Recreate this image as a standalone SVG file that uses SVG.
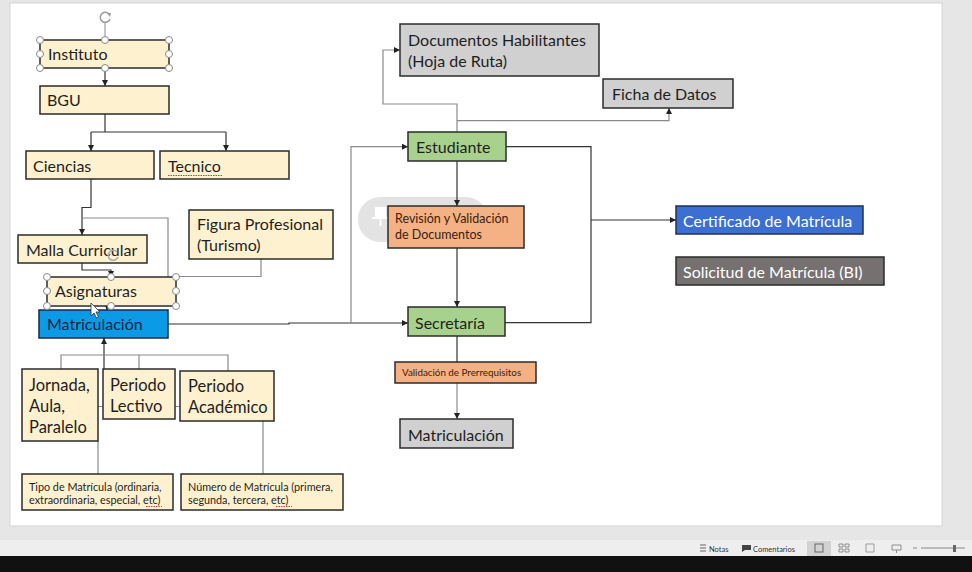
<svg xmlns="http://www.w3.org/2000/svg" width="972" height="572" viewBox="0 0 972 572">
<defs>
<style>
.b{stroke:#2b2b2b;stroke-width:1.5}
.tan{fill:#fef1cf}
.gry{fill:#d0d0d0}
.grn{fill:#a9d18e}
.org{fill:#f4b183}
.t{font-family:Lato,"Liberation Sans",sans-serif;font-size:16px;fill:#1e1e1e}
.s{font-family:Lato,"Liberation Sans",sans-serif;font-size:10.8px;fill:#1e1e1e}
.c{fill:none;stroke:#333;stroke-width:1.2}
.g{fill:none;stroke:#8a8a8a;stroke-width:1.2}
.h{fill:#fff;stroke:#8a8a8a;stroke-width:1}
.sq{fill:none;stroke:#d04040;stroke-width:1;stroke-dasharray:1.5 1}
</style>
<marker id="a" viewBox="0 0 10 10" refX="10" refY="5" markerWidth="6" markerHeight="6" markerUnits="userSpaceOnUse" orient="auto">
<path d="M0,0L10,5L0,10z" fill="#222"/>
</marker>
</defs>
<rect width="972" height="572" fill="#e6e6e6"/>
<rect x="10" y="3" width="932" height="523" fill="#fff" stroke="#d4d4d4"/>
<rect x="0" y="540" width="972" height="16" fill="#eeeeee"/>
<rect x="0" y="556" width="972" height="16" fill="#111"/>
<g id="statusbar">
<path d="M700,545h6M700,548h6M700,551h6" stroke="#666" stroke-width="1"/>
<text x="709" y="551.5" font-family="Lato,'Liberation Sans',sans-serif" font-size="7.5" fill="#333">Notas</text>
<path d="M742,545h9v5h-6l-3,2z" fill="#444"/>
<text x="753" y="551.5" font-family="Lato,'Liberation Sans',sans-serif" font-size="7.5" fill="#333">Comentarios</text>
<rect x="807" y="541" width="24" height="15" fill="#d2d2d2"/>
<rect x="815" y="544" width="8" height="8" fill="none" stroke="#666"/>
<path d="M839,544h4v3h-4zM845,544h4v3h-4zM839,549h4v3h-4zM845,549h4v3h-4z" fill="none" stroke="#777" stroke-width="0.8"/>
<path d="M866,544h8v8h-8z" fill="none" stroke="#888" stroke-width="0.8"/>
<path d="M892,545h9v5h-9zM896.5,550v3" fill="none" stroke="#777" stroke-width="0.8"/>
<path d="M913,548h4M921,548h44" stroke="#888" stroke-width="1"/>
<rect x="953" y="545" width="3" height="7" fill="#666"/>
</g>

<g id="pin">
<rect x="358" y="197" width="130" height="45" rx="22" fill="#e3e3e3"/>
<path d="M376,208h9v10h-9zM372,218h17M380.5,218v8" fill="#fff" stroke="#fff" stroke-width="2"/>
</g>

<g id="connectors">
<path class="c" d="M105,68V86" marker-end="url(#a)"/>
<path class="c" d="M105,114V132"/>
<path class="c" d="M91,132H226"/>
<path class="c" d="M91,132V151" marker-end="url(#a)"/>
<path class="c" d="M226,132V151" marker-end="url(#a)"/>
<path class="c" d="M91,179V207.5H82V235" marker-end="url(#a)"/>
<path class="g" d="M83,218H168V277"/>
<path class="c" d="M82,263V270H111V277" marker-end="url(#a)"/>
<path class="g" d="M261,259V276.5H176"/>
<path class="c" d="M107,306V310" marker-end="url(#a)"/>
<path class="c" d="M168,324H289V323H408" marker-end="url(#a)"/>
<path class="g" d="M351,323V146.7H408" marker-end="url(#a)"/>
<path class="g" d="M457,132V104H383V50H400" marker-end="url(#a)"/>
<path class="g" d="M457,120.7H669V108" marker-end="url(#a)"/>
<path class="c" d="M457,161V206" marker-end="url(#a)"/>
<path class="c" d="M457,248V307" marker-end="url(#a)"/>
<path class="c" d="M506,146.7H591V322.7H505"/>
<path class="c" d="M591,220H676" marker-end="url(#a)"/>
<path class="c" d="M457,336V362"/>
<path class="g" d="M457,383V419" marker-end="url(#a)"/>
<path class="c" d="M104,369V338" marker-end="url(#a)"/>
<path class="g" d="M61,369V355H228V371M139,355V369"/>
<path class="g" d="M98,406.5H103M175,406.5H180"/>
<path class="g" d="M98,441V474M263,421V474"/>
</g>

<g id="instituto"><rect class="b tan" x="40" y="40" width="129" height="28"/><text class="t" x="48" y="60">Instituto</text></g>
<g id="bgu"><rect class="b tan" x="40" y="86" width="129" height="28"/><text class="t" x="47" y="106">BGU</text></g>
<g id="ciencias"><rect class="b tan" x="26" y="151" width="128" height="28"/><text class="t" x="33" y="172">Ciencias</text></g>
<g id="tecnico"><rect class="b tan" x="160" y="151" width="129" height="28"/><text class="t" x="168" y="172">Tecnico</text><path class="sq" d="M168,175.5H222"/></g>
<g id="malla"><rect class="b tan" x="18" y="235" width="129" height="28"/><text class="t" x="26" y="256">Malla Curricular</text></g>
<g id="figura"><rect class="b tan" x="189" y="210" width="144" height="49"/><text class="t" x="197" y="230">Figura Profesional</text><text class="t" x="197" y="251">(Turismo)</text></g>
<g id="asignaturas"><rect class="b tan" x="47" y="277" width="129" height="29"/><text class="t" x="55" y="297">Asignaturas</text></g>
<g id="matriculacion1"><rect x="39" y="310" width="129" height="28" fill="#0a9ae6" stroke="#1a2a4a" stroke-width="1.5"/><text class="t" x="47" y="330" style="fill:#14233f">Matriculación</text></g>
<g id="jornada"><rect class="b tan" x="22" y="369" width="76" height="72"/><text class="t" x="29" y="391" style="font-size:16.5px">Jornada,</text><text class="t" x="29" y="412" style="font-size:16.5px">Aula,</text><text class="t" x="29" y="433" style="font-size:16.5px">Paralelo</text></g>
<g id="lectivo"><rect class="b tan" x="103" y="369" width="72" height="50"/><text class="t" x="110" y="391" style="font-size:16.5px">Periodo</text><text class="t" x="110" y="412" style="font-size:16.5px">Lectivo</text></g>
<g id="academico"><rect class="b tan" x="180" y="371" width="94" height="50"/><text class="t" x="188" y="392" style="font-size:16.5px">Periodo</text><text class="t" x="188" y="413" style="font-size:16.5px">Académico</text></g>
<g id="tipo"><rect class="b tan" x="22" y="474" width="151" height="36"/><text class="s" x="29" y="490.5">Tipo de Matrícula (ordinaria,</text><text class="s" x="29" y="504">extraordinaria, especial, etc)</text><path class="sq" d="M146,506.5H162"/></g>
<g id="numero"><rect class="b tan" x="181" y="474" width="162" height="36"/><text class="s" x="188" y="490.5">Número de Matrícula (primera,</text><text class="s" x="188" y="504">segunda, tercera, etc)</text><path class="sq" d="M276,506.5H292"/></g>
<g id="documentos"><rect class="b gry" x="400" y="24" width="199" height="52"/><text class="t" x="408" y="46">Documentos Habilitantes</text><text class="t" x="408" y="67">(Hoja de Ruta)</text></g>
<g id="ficha"><rect class="b gry" x="603" y="79" width="130" height="29"/><text class="t" x="612" y="100">Ficha de Datos</text></g>
<g id="estudiante"><rect class="b grn" x="408" y="132" width="98" height="29"/><text class="t" x="416" y="153">Estudiante</text></g>
<g id="revision"><rect class="b org" x="388" y="206" width="136" height="42"/><text class="t" x="395" y="223" style="font-size:12.5px;fill:#3a2010">Revisión y Validación</text><text class="t" x="395" y="239" style="font-size:12.5px;fill:#3a2010">de Documentos</text></g>
<g id="secretaria"><rect class="b grn" x="408" y="307" width="97" height="29"/><text class="t" x="415" y="329">Secretaría</text></g>
<g id="prerrequisitos"><rect class="b org" x="395" y="362" width="141" height="21"/><text class="s" x="402" y="375.5" style="font-size:9.8px;fill:#3a2010">Validación de Prerrequisitos</text></g>
<g id="matriculacion2"><rect class="b gry" x="400" y="419" width="113" height="29"/><text class="t" x="408" y="441">Matriculación</text></g>
<g id="certificado"><rect x="676" y="206" width="187" height="28" fill="#3c6fd2" stroke="#1f2f55" stroke-width="1.5"/><text class="t" x="683" y="227" style="fill:#fff">Certificado de Matrícula</text></g>
<g id="solicitud"><rect x="676" y="257" width="208" height="28" fill="#767171" stroke="#2b2b2b" stroke-width="1.5"/><text class="t" x="683" y="278" style="fill:#fff">Solicitud de Matrícula (BI)</text></g>

<g id="handles">
<path d="M105,22V40" stroke="#8a8a8a" stroke-width="1"/>
<path d="M109,14A5,5 0 1 0 110,19" fill="none" stroke="#9a9a9a" stroke-width="1.5"/>
<path d="M107,13L111,13L110,17Z" fill="#9a9a9a"/>
<circle class="h" cx="40" cy="40" r="3.5"/><circle class="h" cx="105" cy="40" r="3.5"/><circle class="h" cx="169" cy="40" r="3.5"/>
<circle class="h" cx="40" cy="54" r="3.5"/><circle class="h" cx="169" cy="54" r="3.5"/>
<circle class="h" cx="40" cy="68" r="3.5"/><circle class="h" cx="105" cy="68" r="3.5"/><circle class="h" cx="169" cy="68" r="3.5"/>
<path d="M117,252A5,5 0 1 0 118,257" fill="none" stroke="#aaa" stroke-width="1.5"/>
<circle class="h" cx="47" cy="277" r="3.5"/><circle class="h" cx="111" cy="277" r="3.5"/><circle class="h" cx="176" cy="277" r="3.5"/>
<circle class="h" cx="47" cy="291" r="3.5"/><circle class="h" cx="176" cy="291" r="3.5"/>
<circle class="h" cx="47" cy="306" r="3.5"/><circle class="h" cx="111" cy="306" r="3.5"/><circle class="h" cx="176" cy="306" r="3.5"/>
<path d="M91,303V316L94,313L96.5,318L98.5,317L96,312H100Z" fill="#fff" stroke="#333" stroke-width="0.8"/>
</g>
</svg>
